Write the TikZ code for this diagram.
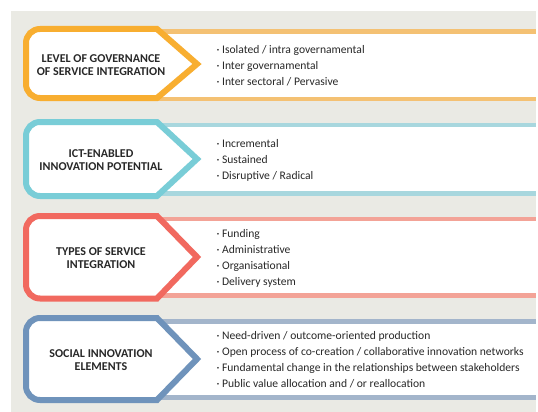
\documentclass[tikz,border=0pt]{standalone}
\usepackage{fontspec}
\setmainfont{Carlito}
\usetikzlibrary{positioning}
\definecolor{bggrey}{RGB}{234,234,228}
\definecolor{textgrey}{RGB}{40,40,40}
\definecolor{govframe}{RGB}{248,174,48}
\definecolor{govband}{RGB}{244,193,115}
\definecolor{ictframe}{RGB}{121,205,215}
\definecolor{ictband}{RGB}{168,215,222}
\definecolor{typframe}{RGB}{241,105,95}
\definecolor{typband}{RGB}{243,163,151}
\definecolor{socframe}{RGB}{111,147,187}
\definecolor{socband}{RGB}{163,181,203}
\tikzstyle{frame} = [line width=6pt, fill=white]
\tikzstyle{strip} = [line width=4.5pt]
\tikzstyle{heading} = [font=\bfseries\fontsize{12}{12.5}\selectfont, align=center, text=textgrey]
\tikzstyle{items} = [font=\fontsize{11.6}{16}\selectfont, align=left, anchor=west, text=textgrey]

\begin{document}
\begin{tikzpicture}[x=1pt, y=-1pt]

\useasboundingbox (0,0) rectangle (538,412);
\fill [bggrey] (11,11) rectangle (536,412);

\fill [white] (157,31.7) rectangle (536,99.2);
\draw [strip, draw=govband] (157,31.7) -- (536,31.7);
\draw [strip, draw=govband] (157,99.2) -- (536,99.2);
\draw [frame, draw=govframe] (26,64) [rounded corners=14pt] -- (26,29) [sharp corners] -- (157,29) -- (197,64) -- (157,98) [rounded corners=14pt] -- (26,98) -- cycle;

\fill [white] (157,125) rectangle (536,193.5);
\draw [strip, draw=ictband] (157,125) -- (536,125);
\draw [strip, draw=ictband] (157,193.5) -- (536,193.5);
\draw [frame, draw=ictframe] (26,159) [rounded corners=14pt] -- (26,122) [sharp corners] -- (157,122) -- (197,159) -- (157,196) [rounded corners=14pt] -- (26,196) -- cycle;

\fill [white] (157,219) rectangle (536,295.5);
\draw [strip, draw=typband] (157,219) -- (536,219);
\draw [strip, draw=typband] (157,295.5) -- (536,295.5);
\draw [frame, draw=typframe] (26,257) [rounded corners=14pt] -- (26,216) [sharp corners] -- (157,216) -- (197,257) -- (157,298.5) [rounded corners=14pt] -- (26,298.5) -- cycle;

\fill [white] (157,321.3) rectangle (536,397.5);
\draw [strip, draw=socband] (157,321.3) -- (536,321.3);
\draw [strip, draw=socband] (157,397.5) -- (536,397.5);
\draw [frame, draw=socframe] (26,359) [rounded corners=14pt] -- (26,318) [sharp corners] -- (157,318) -- (197,359) -- (157,400) [rounded corners=14pt] -- (26,400) -- cycle;

\node (gov)	[heading] at (101,65)	{LEVEL OF GOVERNANCE\\OF SERVICE INTEGRATION};
\node (ict)	[heading] at (101,160)	{ICT-ENABLED\\INNOVATION POTENTIAL};
\node (typ)	[heading] at (101,258)	{TYPES OF SERVICE\\INTEGRATION};
\node (soc)	[heading] at (101,360)	{SOCIAL INNOVATION\\ELEMENTS};

\node (govlist)	[items] at (213,66)		{· Isolated / intra governamental\\· Inter governamental\\· Inter sectoral / Pervasive};
\node (ictlist)	[items] at (213,160)	{· Incremental\\· Sustained\\· Disruptive / Radical};
\node (typlist)	[items] at (213,258)	{· Funding\\· Administrative\\· Organisational\\· Delivery system};
\node (soclist)	[items] at (213,360)	{· Need-driven / outcome-oriented production\\· Open process of co-creation / collaborative innovation networks\\· Fundamental change in the relationships between stakeholders\\· Public value allocation and / or reallocation};

\end{tikzpicture}
\end{document}
